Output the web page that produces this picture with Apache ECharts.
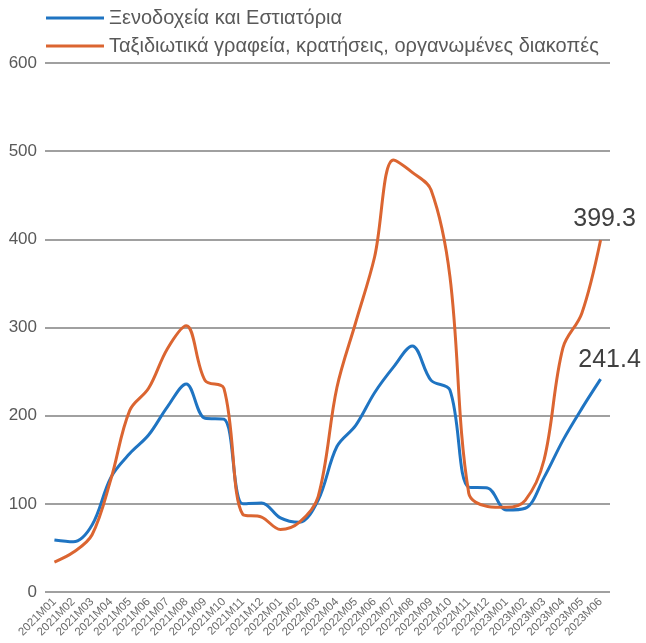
<!DOCTYPE html>
<html>
<head>
<meta charset="utf-8">
<script src="https://cdn.jsdelivr.net/npm/echarts@6/dist/echarts.min.js"></script>
<style>html,body{margin:0;padding:0;background:#fff}#c{width:646px;height:643px}</style>
</head>
<body>
<div id="c"></div>
<script>
const categories = ['2021M01','2021M02','2021M03','2021M04','2021M05','2021M06','2021M07','2021M08','2021M09','2021M10','2021M11','2021M12',
'2022M01','2022M02','2022M03','2022M04','2022M05','2022M06','2022M07','2022M08','2022M09','2022M10','2022M11','2022M12',
'2023M01','2023M02','2023M03','2023M04','2023M05','2023M06'];
const hotels = [59,57,76,130,157,178,210,236,197,196,100,101,84,79,104,165,189,226,255,279,240,229,119,118,93,95,130,172,208,241.4];
const travel = [34,45,65,128,206,231,276,302,240,231,88,85,71,79,108,232,306,380,490,476,456,358,112,97,96,104,150,277,316,399.3];
const seriesNames = ['Ξενοδοχεία και Εστιατόρια','Ταξιδιωτικά γραφεία, κρατήσεις, οργανωμένες διακοπές'];
const yTicks = {min:0, max:600, interval:100};

const font = 'Liberation Sans, Arial, sans-serif';
function withLastLabel(arr, offset){
  return arr.map((v,i)=> i===arr.length-1 ? {value:v, label:{show:true, position:'top', distance:8, offset:offset, fontSize:25, color:'#404040', fontFamily:font}} : v);
}
const chart = echarts.init(document.getElementById('c'));
chart.setOption({
  animation:false,
  backgroundColor:'#fff',
  grid:{left:45, right:36, top:63, bottom:51},
  legend:{
    orient:'vertical', left:41, top:2, itemGap:6,
    icon:'rect', itemWidth:58, itemHeight:3,
    textStyle:{fontSize:20, color:'#595959', fontFamily:font, lineHeight:22},
    data:seriesNames
  },
  xAxis:{
    type:'category', data:categories, boundaryGap:true,
    axisLine:{show:false}, axisTick:{show:false},
    axisLabel:{rotate:45, interval:0, fontSize:11.5, color:'#6a6a6a', fontFamily:font, margin:8}
  },
  yAxis:{
    type:'value', min:yTicks.min, max:yTicks.max, interval:yTicks.interval,
    axisLine:{show:false}, axisTick:{show:false},
    axisLabel:{fontSize:17, color:'#595959', fontFamily:font, margin:8},
    splitLine:{lineStyle:{color:'#a0a0a0', width:2}}
  },
  series:[
    {name:seriesNames[0], type:'line', data:withLastLabel(hotels,[9,1]), smooth:0.35, symbol:'circle', symbolSize:0, showSymbol:true,
     lineStyle:{width:3, color:'#1f74c2'}, itemStyle:{color:'#1f74c2'}},
    {name:seriesNames[1], type:'line', data:withLastLabel(travel,[4,0]), smooth:0.35, symbol:'circle', symbolSize:0, showSymbol:true,
     lineStyle:{width:3, color:'#db6531'}, itemStyle:{color:'#db6531'}}
  ]
});
</script>
</body>
</html>
